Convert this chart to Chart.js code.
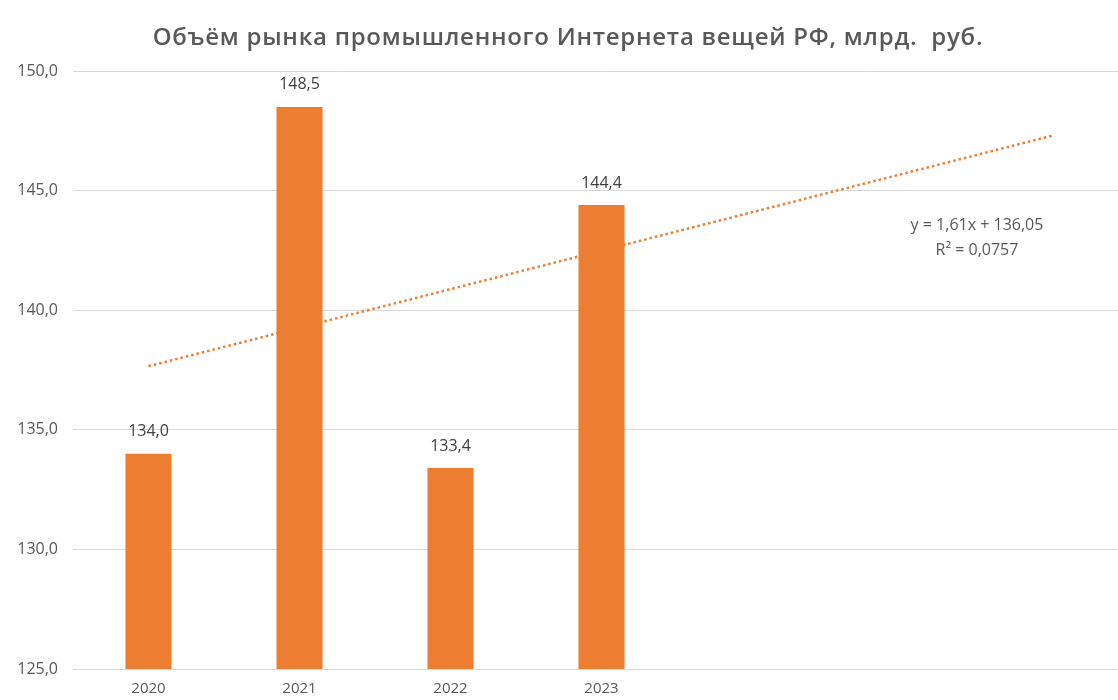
<!DOCTYPE html>
<html>
<head>
<meta charset="utf-8">
<script src="https://cdn.jsdelivr.net/npm/chart.js@4/dist/chart.umd.min.js"></script>
<style>
  html, body { margin: 0; padding: 0; background: #fff; overflow: hidden; }
  #wrap { width: 1118px; height: 700px; overflow: hidden; position: relative; }
  #box { width: 1136px; height: 700px; position: absolute; left: 0; top: 0; }
</style>
</head>
<body>
<div id="wrap"><div id="box"><canvas id="c"></canvas></div></div>
<script>
// Market volume, billion rubles
const categories = ['2020', '2021', '2022', '2023', '', '', ''];
const volumes = [134.0, 148.5, 133.4, 144.4, null, null, null];
// Linear trend as printed on the chart: y = 1,61x + 136,05
const trendSlope = 1.61;
const trendIntercept = 136.05;
const trendLabels = ['y = 1,61x + 136,05', 'R² = 0,0757'];
const yTicks = { min: 125, max: 150, step: 5 };
const titleText = 'Объём рынка промышленного Интернета вещей РФ, млрд.  руб.';

const trend = categories.map((_, i) => trendSlope * (i + 1) + trendIntercept);

const fmt = v => v.toFixed(1).replace('.', ',');
const ORANGE = '#ED7D31';
const GRAY = '#595959';
const FONT = '"Open Sans", "Noto Sans", sans-serif';

// Title drawn by hand so it can use letter spacing
const titlePlugin = {
  id: 'wideTitle',
  afterDraw(chart) {
    const ctx = chart.ctx;
    ctx.save();
    ctx.font = '600 24px ' + FONT;
    if ('letterSpacing' in ctx) ctx.letterSpacing = '0.75px';
    ctx.fillStyle = GRAY;
    ctx.textAlign = 'center';
    ctx.textBaseline = 'middle';
    ctx.fillText(titleText, 568, 38);
    ctx.restore();
  }
};

const labelPlugin = {
  id: 'barLabels',
  afterDatasetsDraw(chart) {
    const ctx = chart.ctx;
    const meta = chart.getDatasetMeta(0);
    ctx.save();
    ctx.font = '16px ' + FONT;
    ctx.fillStyle = '#404040';
    ctx.textAlign = 'center';
    ctx.textBaseline = 'middle';
    meta.data.forEach((bar, i) => {
      const v = volumes[i];
      if (v == null) return;
      ctx.fillText(fmt(v), bar.x, bar.y - 22);
    });
    // trend equation
    const a = chart.chartArea;
    ctx.fillStyle = GRAY;
    ctx.font = '16px ' + FONT;
    ctx.fillText(trendLabels[0], 977, a.top + 154);
    ctx.fillText(trendLabels[1], 977, a.top + 179);
    ctx.restore();
  }
};

new Chart(document.getElementById('c'), {
  data: {
    labels: categories,
    datasets: [
      {
        type: 'bar',
        data: volumes,
        backgroundColor: ORANGE,
        categoryPercentage: 1,
        barPercentage: 0.305,
        order: 2
      },
      {
        type: 'line',
        data: trend,
        borderColor: ORANGE,
        borderWidth: 2.5,
        borderDash: [2.5, 3],
        borderCapStyle: 'butt',
        pointRadius: 0,
        fill: false,
        order: 1
      }
    ]
  },
  options: {
    responsive: true,
    maintainAspectRatio: false,
    animation: false,
    layout: { padding: { top: 71, right: 6, bottom: 0, left: 0 } },
    plugins: {
      legend: { display: false },
      tooltip: { enabled: false },
      title: { display: false }
    },
    scales: {
      x: {
        grid: { display: false, drawTicks: false },
        border: { display: false },
        ticks: { color: GRAY, font: { family: FONT, size: 15 }, padding: 11, maxRotation: 0, autoSkip: false },
        afterFit(s) { s.height = 31; }
      },
      y: {
        min: yTicks.min,
        max: yTicks.max,
        grid: { color: '#D9D9D9', lineWidth: 1, drawTicks: false },
        border: { display: false },
        ticks: {
          stepSize: yTicks.step,
          color: GRAY,
          font: { family: FONT, size: 16 },
          padding: 15,
          callback: v => fmt(v)
        },
        afterFit(s) { s.width = 73; }
      }
    }
  },
  plugins: [labelPlugin, titlePlugin]
});
</script>
</body>
</html>
